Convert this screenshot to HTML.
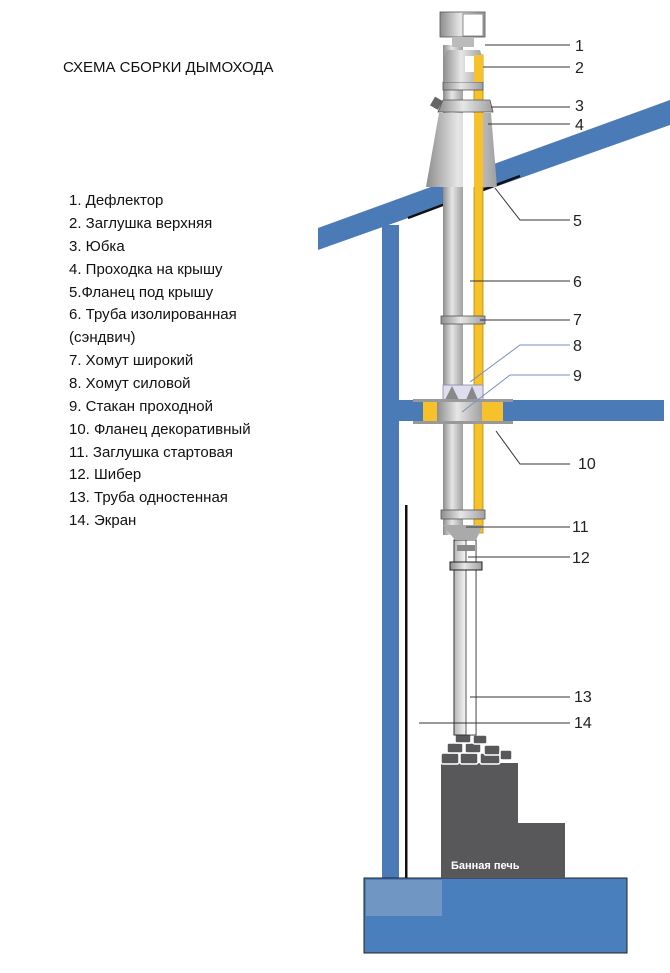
<!DOCTYPE html>
<html><head><meta charset="utf-8"><style>
html,body{margin:0;padding:0;background:#fff;}
svg{display:block;}
text{font-family:"Liberation Sans","DejaVu Sans",sans-serif;}
</style></head><body>
<svg width="670" height="973" viewBox="0 0 670 973" xmlns="http://www.w3.org/2000/svg">
<defs>
<linearGradient id="g" x1="0" x2="1"><stop offset="0" stop-color="#8d8d8d"/><stop offset="0.45" stop-color="#e6e6e6"/><stop offset="1" stop-color="#a0a0a0"/></linearGradient>
<linearGradient id="g2" x1="0" x2="1"><stop offset="0" stop-color="#b5b5b5"/><stop offset="0.5" stop-color="#f2f2f2"/><stop offset="1" stop-color="#c8c8c8"/></linearGradient>
</defs>
<text x="63" y="72" font-size="15" fill="#111">СХЕМА СБОРКИ ДЫМОХОДА</text>
<g font-size="15" fill="#111">
<text x="69" y="205">1. Дефлектор</text>
<text x="69" y="228">2. Заглушка верхняя</text>
<text x="69" y="251">3. Юбка</text>
<text x="69" y="274">4. Проходка на крышу</text>
<text x="69" y="297">5.Фланец под крышу</text>
<text x="69" y="319">6. Труба изолированная</text>
<text x="69" y="342">(сэндвич)</text>
<text x="69" y="365">7. Хомут широкий</text>
<text x="69" y="388">8. Хомут силовой</text>
<text x="69" y="411">9. Стакан проходной</text>
<text x="69" y="434">10. Фланец декоративный</text>
<text x="69" y="457">11. Заглушка стартовая</text>
<text x="69" y="479">12. Шибер</text>
<text x="69" y="502">13. Труба одностенная</text>
<text x="69" y="525">14. Экран</text>
</g>
<rect x="382" y="225" width="17" height="655" fill="#4a7bb7"/>
<rect x="382" y="400" width="282" height="21" fill="#4a7bb7"/>
<rect x="405" y="505" width="2.5" height="375" fill="#111"/>
<rect x="364" y="878" width="263" height="75" fill="#4a7fbd" stroke="#222" stroke-width="1"/>
<rect x="366" y="880" width="76" height="36" fill="#7096c4"/>
<path d="M441 763 H518 V823 H565 V878 H441 Z" fill="#58585a"/>
<g fill="#58585a" stroke="#fff" stroke-width="1.5">
<rect x="441" y="753" width="18" height="11" rx="2"/><rect x="460" y="753" width="18" height="11" rx="2"/><rect x="480" y="753" width="20" height="11" rx="2"/>
<rect x="447" y="743" width="16" height="10" rx="2"/><rect x="465" y="743" width="16" height="10" rx="2"/><rect x="484" y="745" width="16" height="10" rx="2"/><rect x="500" y="750" width="12" height="10" rx="2"/>
<rect x="455" y="734" width="16" height="9" rx="2"/><rect x="473" y="735" width="14" height="9" rx="2"/>
</g>
<text x="451" y="869" font-size="11" font-weight="bold" fill="#fff">Банная печь</text>
<rect x="454" y="540" width="22" height="195" fill="url(#g2)" stroke="#333" stroke-width="1"/>
<rect x="466" y="540" width="10" height="195" fill="#fff" stroke="#333" stroke-width="0.8"/>
<rect x="450" y="562" width="32" height="8" fill="url(#g)" stroke="#222" stroke-width="1"/>
<rect x="457" y="545" width="18" height="6" fill="#888"/>
<polygon points="318,228 670,100 670,125 318,250" fill="#4a7bb7"/>
<line x1="408" y1="218" x2="520" y2="176" stroke="#111" stroke-width="2.5"/>
<rect x="443" y="45" width="20" height="490" fill="url(#g)"/>
<rect x="463" y="45" width="11" height="490" fill="#fff"/>
<rect x="474" y="55" width="9" height="478" fill="#f6c12a" stroke="#b88a00" stroke-width="0.8"/>
<path d="M443 525 L455 540 H476 L483 525Z" fill="#aaa"/>
<path d="M439 113 L491 113 L497 187 L426 187Z" fill="url(#g)"/>
<rect x="463" y="113" width="11" height="74" fill="#fff"/>
<rect x="474" y="113" width="9" height="74" fill="#f6c12a"/>
<path d="M443 100 H490 L493 112 H438Z" fill="url(#g)" stroke="#555" stroke-width="0.8"/>
<rect x="432" y="98" width="9" height="10" fill="#666" transform="rotate(30 436 103)"/>
<rect x="443" y="82" width="40" height="8" fill="url(#g)" stroke="#555" stroke-width="0.8"/>
<path d="M447 50 H480 L483 60 V82 H443 V60Z" fill="url(#g)"/>
<rect x="465" y="56" width="9" height="16" fill="#fff"/>
<rect x="474" y="55" width="9" height="27" fill="#f6c12a"/>
<rect x="440" y="12" width="45" height="25" fill="url(#g)" stroke="#555" stroke-width="0.8"/>
<rect x="463" y="14" width="20" height="22" fill="#fff" stroke="#777" stroke-width="0.8"/>
<rect x="452" y="37" width="22" height="10" fill="#bbb"/>
<rect x="441" y="316" width="44" height="8" fill="url(#g)" stroke="#555" stroke-width="0.8"/>
<rect x="441" y="510" width="44" height="9" fill="url(#g)" stroke="#555" stroke-width="0.8"/>
<rect x="443" y="385" width="40" height="15" fill="#dde" stroke="#88a" stroke-width="0.8"/>
<polygon points="445,400 452,386 459,400" fill="#888"/><polygon points="466,400 472,386 478,400" fill="#888"/>
<rect x="413" y="399" width="100" height="3" fill="#999"/>
<rect x="413" y="421" width="100" height="3" fill="#999"/>
<rect x="423" y="402" width="14" height="19" fill="#f6c12a"/>
<rect x="482" y="402" width="21" height="19" fill="#f6c12a"/>
<rect x="437" y="402" width="45" height="19" fill="url(#g)"/>
<g stroke="#333" stroke-width="1" fill="none">
<line x1="485" y1="45" x2="570" y2="45"/>
<line x1="483" y1="67" x2="570" y2="67"/>
<line x1="491" y1="107" x2="570" y2="107"/>
<line x1="488" y1="124" x2="570" y2="124"/>
<polyline points="495,188 520,220 570,220"/>
<line x1="470" y1="281" x2="570" y2="281"/>
<line x1="480" y1="320" x2="570" y2="320"/>
<polyline points="470,382 520,345 570,345" stroke="#7890c0"/>
<polyline points="462,412 510,375 570,375" stroke="#7890c0"/>
<polyline points="496,431 520,464 570,464"/>
<line x1="466" y1="527" x2="570" y2="527"/>
<line x1="468" y1="557" x2="570" y2="557"/>
<line x1="470" y1="697" x2="570" y2="697"/>
<line x1="419" y1="723" x2="570" y2="723"/>
</g>
<g font-size="16" fill="#222">
<text x="575" y="51">1</text><text x="575" y="73">2</text><text x="575" y="111">3</text><text x="575" y="130">4</text>
<text x="573" y="226">5</text><text x="573" y="287">6</text><text x="573" y="325">7</text><text x="573" y="351">8</text>
<text x="573" y="381">9</text><text x="578" y="469">10</text><text x="572" y="532">11</text><text x="572" y="563">12</text>
<text x="574" y="702">13</text><text x="574" y="728">14</text>
</g>
</svg>
</body></html>
